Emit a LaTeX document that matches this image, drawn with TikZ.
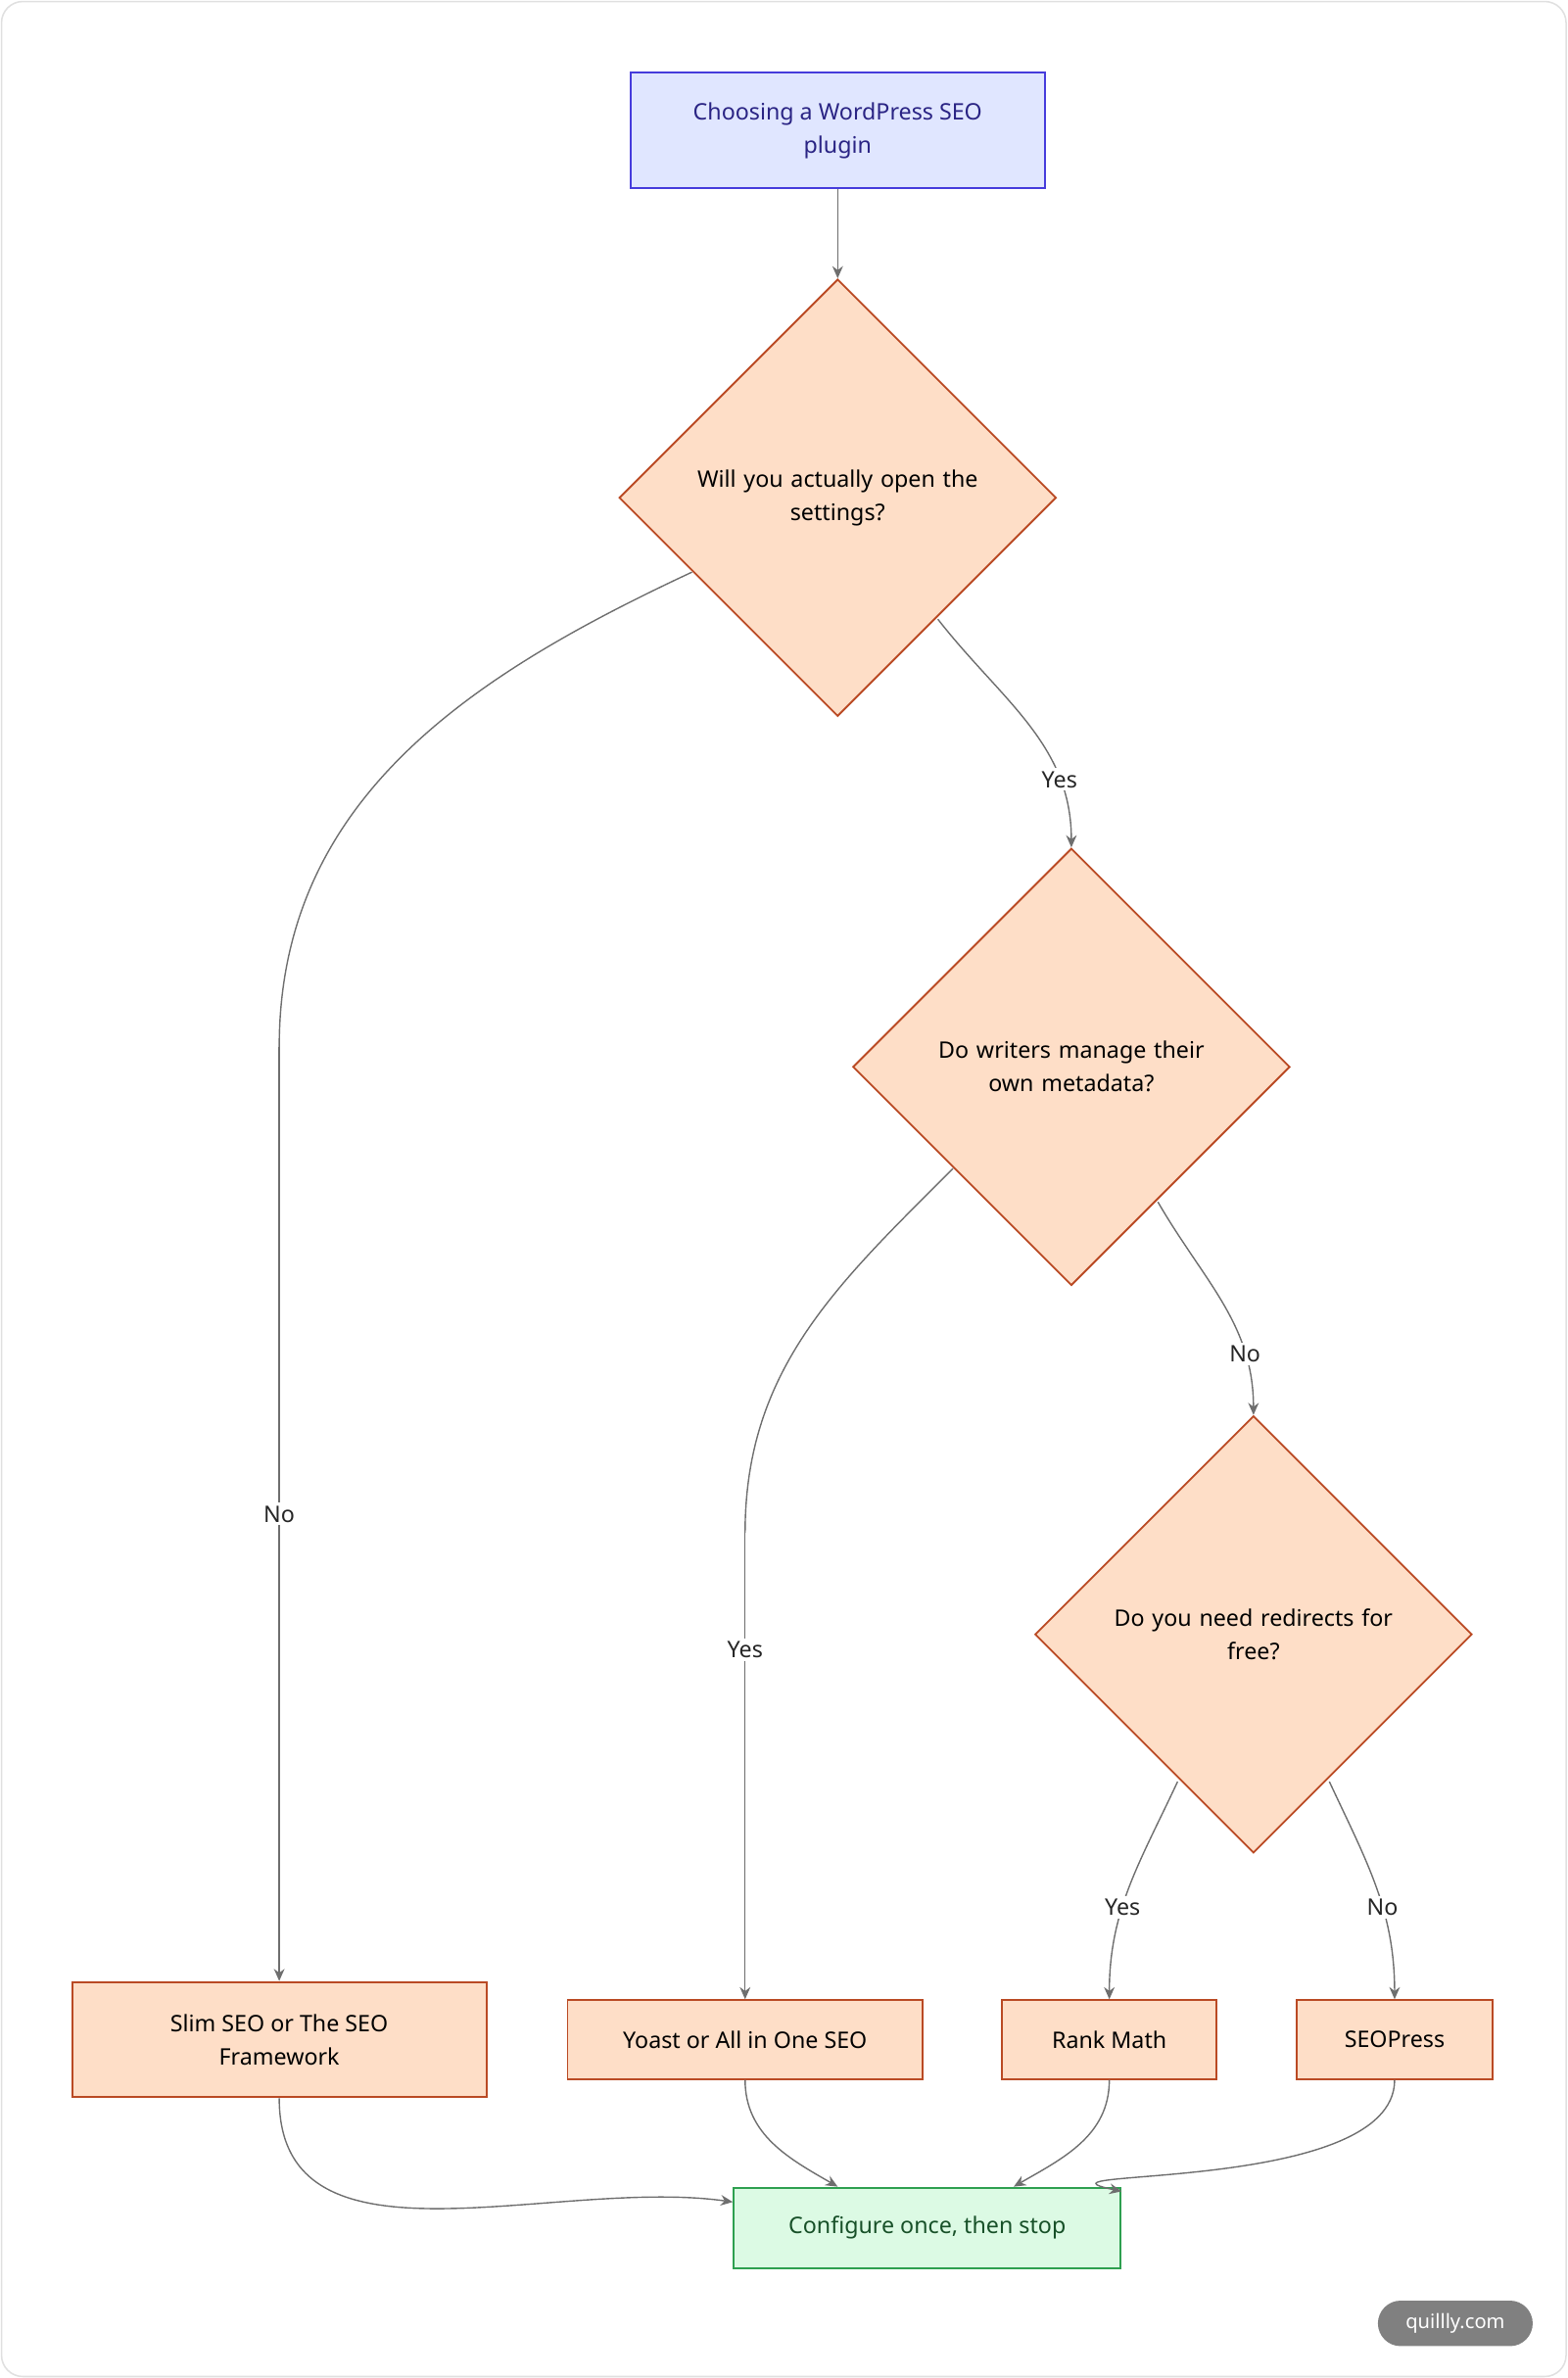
\documentclass[tikz,border=0pt]{standalone}
\usepackage{fontspec}
\setmainfont{Noto Sans}
\usetikzlibrary{shapes.geometric, arrows.meta}
\definecolor{edge}{RGB}{110, 110, 110}
\definecolor{peach}{RGB}{254, 222, 199}
\definecolor{rust}{RGB}{186, 74, 36}
\definecolor{lav}{RGB}{224, 230, 255}
\definecolor{indigo}{RGB}{70, 60, 220}
\definecolor{mint}{RGB}{220, 250, 228}
\definecolor{leaf}{RGB}{46, 160, 80}

\tikzset{
  every node/.style={font=\fontsize{15}{22}\selectfont},
  box/.style={draw=rust, fill=peach, line width=1.2pt, align=center, inner sep=0},
  ask/.style={box, diamond, aspect=1, minimum width=288pt, minimum height=288pt, text width=200pt},
  flow/.style={draw=edge, line width=0.9pt, -{Stealth[length=8pt, width=7pt]}},
  tag/.style={fill=white, inner sep=2pt, text=black!85}
}

\begin{document}
\begin{tikzpicture}[x=1pt, y=-1pt]

  \draw[black!12, line width=1pt, rounded corners=14pt] (1, 1) rectangle (1032, 1566);
  \useasboundingbox (0, 0) rectangle (1033, 1567);

  % question nodes
  \node[draw=indigo, fill=lav, line width=1.2pt, align=center, text=indigo!60!black,
        minimum width=273pt, minimum height=76pt] (start) at (552, 86)
        {Choosing a WordPress SEO\\plugin};
  \node[ask] (q1) at (552, 328) {Will you actually open the\\settings?};
  \node[ask] (q2) at (706, 703) {Do writers manage their\\own metadata?};
  \node[ask] (q3) at (826, 1077) {Do you need redirects for\\free?};

  % answers
  \node[box, minimum width=273pt, minimum height=76pt] (slim) at (184, 1344) {Slim SEO or The SEO\\Framework};
  \node[box, minimum width=234pt, minimum height=52pt] (yoast) at (491, 1344) {Yoast or All in One SEO};
  \node[box, minimum width=141pt, minimum height=52pt] (rank) at (731, 1344) {Rank Math};
  \node[box, minimum width=129pt, minimum height=52pt] (press) at (919, 1344) {SEOPress};
  \node[draw=leaf, fill=mint, line width=1.2pt, text=leaf!50!black,
        minimum width=255pt, minimum height=53pt] (done) at (611, 1468) {Configure once, then stop};

  \coordinate (bendA) at (184, 690);
  \coordinate (bendB) at (491, 1010);

  \draw[flow] (start) -- (q1);
  \draw[draw=edge, line width=0.9pt] (456, 377) to[out=205, in=90] (bendA);
  \draw[flow] (bendA) -- node[tag] {No} (slim);
  \draw[flow] (618, 408) to[out=-52, in=90] node[tag, pos=0.75] {Yes} (q2.north);
  \draw[draw=edge, line width=0.9pt] (628, 770) to[out=-135, in=90] (bendB);
  \draw[flow] (bendB) -- node[tag, pos=0.25] {Yes} (yoast);
  \draw[flow] (763, 792) to[out=-60, in=90] node[tag, pos=0.75] {No} (q3.north);
  \draw[flow] (776, 1174) to[out=-115, in=90] node[tag, pos=0.6] {Yes} (rank);
  \draw[flow] (876, 1174) to[out=-65, in=90] node[tag, pos=0.6] {No} (press);

  \draw[flow] (slim.south) to[out=-90, in=172] (done.west |- 0, 1451);
  \draw[flow] (yoast.south) to[out=-90, in=150] (done.north -| 552, 0);
  \draw[flow] (rank.south) to[out=-90, in=30] (done.north -| 668, 0);
  \draw[flow] (press.south) to[out=-90, in=168] (done.east |- 0, 1444);

  \node[fill=black!50, text=white, rounded corners=15pt, minimum width=102pt, minimum height=30pt,
        font=\fontsize{13}{16}\selectfont] (badge) at (959, 1531) {quillly.com};

\end{tikzpicture}
\end{document}
